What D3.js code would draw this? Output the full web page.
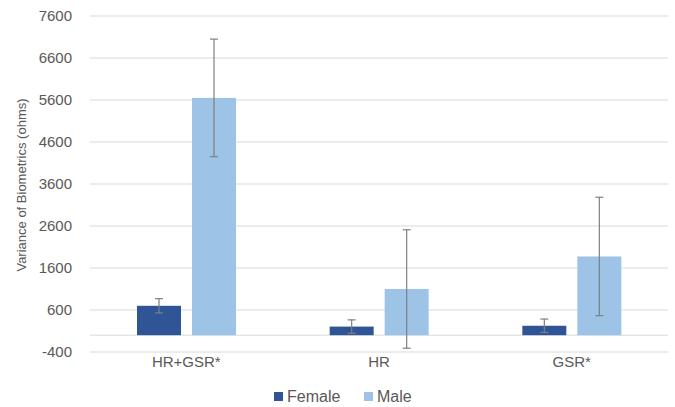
<!DOCTYPE html>
<html><head><meta charset="utf-8">
<script src="https://cdn.jsdelivr.net/npm/d3@7"></script>
<style>body{margin:0;background:#fff}</style>
</head><body>
<svg id="chart" width="675" height="407"></svg>
<script>
const categories = ["HR+GSR*", "HR", "GSR*"];
const seriesNames = ["Female", "Male"];
const femaleValues = [700, 205, 225];
const maleValues = [5650, 1100, 1875];
const femaleErrors = [170, 160, 160];
const maleErrors = [1400, 1410, 1410];
const yTicks = [-400, 600, 1600, 2600, 3600, 4600, 5600, 6600, 7600];
const colors = ["#2F5597", "#9DC3E6"];

const svg = d3.select("#chart");
const margin = {left: 90, right: 7, top: 16, bottom: 55};
const W = 675, H = 407;
const x0 = d3.scaleBand().domain(categories).range([margin.left, W - margin.right]);
const x1 = d3.scaleBand().domain(seriesNames).range([47, 47 + 99]).paddingInner(0.2);
const y = d3.scaleLinear().domain([-400, 7600]).range([352, 16]);

const font = "'Liberation Sans', Arial, sans-serif";
const textColor = "#595959";

// gridlines
svg.append("g").selectAll("line").data(yTicks).join("line")
  .attr("x1", margin.left).attr("x2", W - margin.right)
  .attr("y1", d => y(d)).attr("y2", d => y(d))
  .attr("stroke", "#d9d9d9").attr("stroke-width", 1);

// y tick labels
svg.append("g").selectAll("text").data(yTicks).join("text")
  .attr("x", 72).attr("y", d => y(d)).attr("dy", "0.35em")
  .attr("text-anchor", "end").attr("font-family", font).attr("font-size", 15)
  .attr("fill", textColor).text(d => d);

// zero axis line
svg.append("line").attr("x1", margin.left).attr("x2", W - margin.right)
  .attr("y1", y(0)).attr("y2", y(0)).attr("stroke", "#d9d9d9").attr("stroke-width", 1);

const data = categories.map((c, i) => ({
  cat: c,
  vals: [
    {s: "Female", v: femaleValues[i], e: femaleErrors[i], c: colors[0]},
    {s: "Male", v: maleValues[i], e: maleErrors[i], c: colors[1]}
  ]
}));

const groups = svg.append("g").selectAll("g").data(data).join("g")
  .attr("transform", d => `translate(${x0(d.cat)},0)`);

groups.selectAll("rect").data(d => d.vals).join("rect")
  .attr("x", d => x1(d.s)).attr("width", x1.bandwidth())
  .attr("y", d => y(d.v)).attr("height", d => y(0) - y(d.v))
  .attr("fill", d => d.c);

// error bars
const eb = groups.selectAll("g.eb").data(d => d.vals).join("g").attr("class", "eb");
eb.append("line")
  .attr("x1", d => x1(d.s) + x1.bandwidth() / 2).attr("x2", d => x1(d.s) + x1.bandwidth() / 2)
  .attr("y1", d => y(d.v + d.e)).attr("y2", d => y(d.v - d.e))
  .attr("stroke", "#7f7f7f").attr("stroke-width", 1.2);
[1, -1].forEach(sign => {
  eb.append("line")
    .attr("x1", d => x1(d.s) + x1.bandwidth() / 2 - 4).attr("x2", d => x1(d.s) + x1.bandwidth() / 2 + 4)
    .attr("y1", d => y(d.v + sign * d.e)).attr("y2", d => y(d.v + sign * d.e))
    .attr("stroke", "#7f7f7f").attr("stroke-width", 1.2);
});

// category labels
svg.append("g").selectAll("text").data(categories).join("text")
  .attr("x", d => x0(d) + x0.bandwidth() / 2).attr("y", 367)
  .attr("text-anchor", "middle").attr("font-family", font).attr("font-size", 15)
  .attr("fill", textColor).text(d => d);

// y-axis title
svg.append("text")
  .attr("transform", `translate(26,185) rotate(-90)`)
  .attr("text-anchor", "middle").attr("font-family", font).attr("font-size", 13)
  .attr("fill", textColor).text("Variance of Biometrics (ohms)");

// legend
const legendX = [274, 364];
const leg = svg.append("g").selectAll("g").data(seriesNames).join("g")
  .attr("transform", (d, i) => `translate(${legendX[i]},392)`);
leg.append("rect").attr("width", 9).attr("height", 9).attr("fill", (d, i) => colors[i]);
leg.append("text").attr("x", 13).attr("y", 4.5).attr("dy", "0.36em")
  .attr("font-family", font).attr("font-size", 16).attr("fill", textColor).text(d => d);
</script>
</body></html>
